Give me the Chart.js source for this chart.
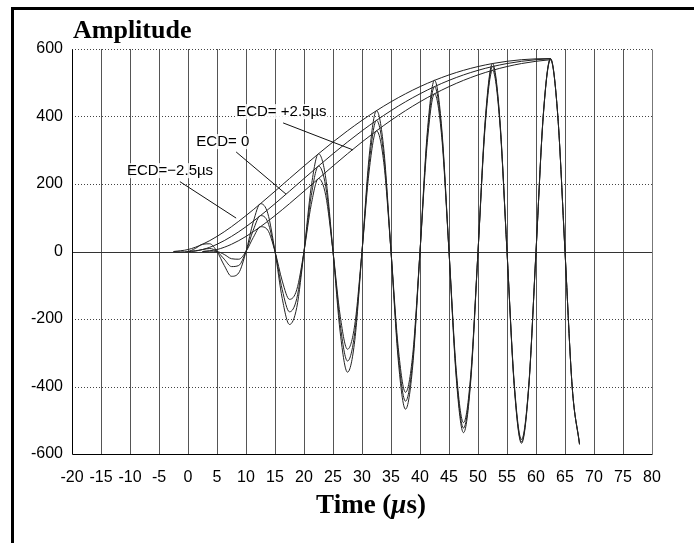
<!DOCTYPE html>
<html><head><meta charset="utf-8">
<script src="https://cdn.jsdelivr.net/npm/chart.js@4/dist/chart.umd.min.js"></script>
<style>html,body{margin:0;padding:0;background:#fff}#wrap{width:694px;height:543px;position:relative}</style>
</head><body><div id="wrap"><canvas id="c"></canvas></div>
<script>
// ---- data ----
const TIME_US = [-2.5,-1.25,0,1.25,2.5,3.75,5,6.25,7.5,8.75,10,11.25,12.5,13.75,15,16.25,17.5,18.75,20,21.25,22.5,23.75,25,26.25,27.5,28.75,30,31.25,32.5,33.75,35,36.25,37.5,38.75,40,41.25,42.5,43.75,45,46.25,47.5,48.75,50,51.25,52.5,53.75,55,56.25,57.5,58.75,60,61.25,62.5,63.75,65,66.25,67.5];
const PULSE_ECD_M25 = [0,-1.1,0,8.9,21.4,22.8,0,-41.4,-73.5,-63.3,0,87.5,141.8,113.3,0,-139.6,-216.2,-166.0,0,192.0,289.6,217.3,0,-241.3,-357.6,-264.0,0,285.1,417.3,304.5,0,-322.3,-467.3,-338.1,0,352.2,507.1,364.4,0,-374.9,-536.8,-383.7,0,390.8,556.9,396.3,0,-400.3,-568.3,-402.9,0,404.1,571.8,404.1,0,-403.0,-568.6];
const PULSE_ECD_0 = [null,null,0,1.1,5.8,8.8,0,-22.8,-44.7,-41.4,0,63.3,106.4,87.5,0,-113.3,-178.7,-139.6,0,166.0,253.3,192.0,0,-217.3,-324.5,-241.3,0,264.0,388.6,285.1,0,-304.5,-443.6,-322.3,0,338.1,488.5,352.2,0,-364.4,-523.2,-374.9,0,383.7,548.0,390.8,0,-396.3,-563.6,-400.3,0,402.9,570.9,404.1,0,-404.1,-571.0];
const PULSE_ECD_P25 = [null,null,null,null,0,1.1,0,-8.8,-21.4,-22.8,0,41.4,73.5,63.3,0,-87.5,-141.8,-113.3,0,139.6,216.2,166.0,0,-192.0,-289.6,-217.3,0,241.3,357.6,264.0,0,-285.1,-417.3,-304.5,0,322.3,467.3,338.1,0,-352.2,-507.1,-364.4,0,374.9,536.8,383.7,0,-390.8,-556.9,-396.3,0,400.3,568.3,402.9,0,-404.1,-571.8];
const ENV_TIME_US = [-2.5,0,2.5,5,7.5,10,12.5,15,17.5,20,22.5,25,27.5,30,32.5,35,37.5,40,42.5,45,47.5,50,52.5,55,57.5,60,62.5];
const ENV_ECD_M25 = [0,5.8,21.4,44.7,73.5,106.4,141.8,178.7,216.2,253.3,289.6,324.5,357.6,388.6,417.3,443.6,467.3,488.5,507.1,523.2,536.8,548.0,556.9,563.6,568.3,570.9,571.8];
const ENV_ECD_0 = [null,0,5.8,21.4,44.7,73.5,106.4,141.8,178.7,216.2,253.3,289.6,324.5,357.6,388.6,417.3,443.6,467.3,488.5,507.1,523.2,536.8,548.0,556.9,563.6,568.3,570.9];
const ENV_ECD_P25 = [null,null,0,5.8,21.4,44.7,73.5,106.4,141.8,178.7,216.2,253.3,289.6,324.5,357.6,388.6,417.3,443.6,467.3,488.5,507.1,523.2,536.8,548.0,556.9,563.6,568.3];
const X_TICKS = [-20,-15,-10,-5,0,5,10,15,20,25,30,35,40,45,50,55,60,65,70,75,80];
const Y_TICKS = [-600,-400,-200,0,200,400,600];
const ECD_LABELS = ['ECD= +2.5\u00b5s','ECD= 0','ECD=\u22122.5\u00b5s'];

// ---- annotation placement (data coordinates) ----
const ANNOT = [
  {at:[16.1,413], from:[16.4,381], to:[28.45,301]},
  {at:[6.0,324], from:[8.3,295], to:[16.9,170]},
  {at:[-3.1,238], from:[-1.4,207], to:[8.3,99]}
];

const pts = (xs, ys) => xs.map((x,i)=>({x:x, y:ys[i]}));
const lineDs = (xs, ys) => ({data: pts(xs, ys), borderColor:'#222', borderWidth:1, pointRadius:0, fill:false, cubicInterpolationMode:'monotone', spanGaps:false});

const decor = {
  id:'decor',
  beforeDatasetsDraw(chart){
    const {ctx, chartArea:a, scales:{x, y}} = chart;
    ctx.save();
    ctx.lineWidth = 1;
    X_TICKS.forEach(v=>{
      if (v === -20 || v === 80) return;
      const px = Math.round(x.getPixelForValue(v)) + 0.5;
      ctx.strokeStyle = '#555';
      ctx.beginPath(); ctx.moveTo(px, a.top); ctx.lineTo(px, a.bottom); ctx.stroke();
    });
    Y_TICKS.forEach(v=>{
      if (v === -600) return;
      const py = Math.round(y.getPixelForValue(v)) + 0.5;
      if (v === 0) { ctx.setLineDash([]); ctx.strokeStyle = '#333'; }
      else { ctx.setLineDash([1,2]); ctx.strokeStyle = '#444'; }
      ctx.beginPath(); ctx.moveTo(a.left, py); ctx.lineTo(a.right, py); ctx.stroke();
    });
    ctx.setLineDash([]);
    const L = Math.round(a.left)+0.5, R = Math.round(a.right)+0.5, B = Math.round(a.bottom)+0.5, T = Math.round(a.top)+0.5;
    ctx.strokeStyle = '#000';
    ctx.beginPath(); ctx.moveTo(L, T); ctx.lineTo(L, B); ctx.lineTo(R, B); ctx.stroke();
    ctx.strokeStyle = '#777';
    ctx.beginPath(); ctx.moveTo(R, T); ctx.lineTo(R, B); ctx.stroke();
    ctx.restore();
  },
  afterDatasetsDraw(chart){
    const {ctx, scales:{x, y}} = chart;
    ctx.save();
    ctx.strokeStyle = '#111'; ctx.lineWidth = 1;
    ctx.font = '15px "Liberation Sans", Arial, sans-serif';
    ctx.textAlign = 'center'; ctx.textBaseline = 'middle';
    ANNOT.forEach((an, i)=>{
      const tx = x.getPixelForValue(an.at[0]), ty = y.getPixelForValue(an.at[1]);
      const w = ctx.measureText(ECD_LABELS[i]).width;
      ctx.fillStyle = 'rgba(255,255,255,0.85)';
      ctx.fillRect(tx - w/2 - 1, ty - 8, w + 2, 15);
      ctx.fillStyle = '#000';
      ctx.fillText(ECD_LABELS[i], tx, ty);
      ctx.beginPath();
      ctx.moveTo(x.getPixelForValue(an.from[0]), y.getPixelForValue(an.from[1]));
      ctx.lineTo(x.getPixelForValue(an.to[0]), y.getPixelForValue(an.to[1]));
      ctx.stroke();
    });
    ctx.restore();
  },
  afterDraw(chart){
    const {ctx, chartArea:a} = chart;
    ctx.save();
    ctx.fillStyle = '#000';
    ctx.fillRect(11, 7, 683, 3);
    ctx.fillRect(11, 7, 3, 536);
    ctx.textBaseline = 'alphabetic'; ctx.textAlign = 'left';
    ctx.font = 'bold 26px "Liberation Serif", "Times New Roman", serif';
    ctx.fillText('Amplitude', a.left + 1, 38);
    const f1 = 'bold 27px "Liberation Serif", "Times New Roman", serif';
    const f2 = 'italic bold 27px "Liberation Serif", "Times New Roman", serif';
    const parts = [['Time (', f1], ['\u03bc', f2], ['s)', f1]];
    let total = 0;
    parts.forEach(p=>{ ctx.font = p[1]; total += ctx.measureText(p[0]).width; });
    let cx = 371 - total/2;
    parts.forEach(p=>{ ctx.font = p[1]; ctx.fillText(p[0], cx, 513); cx += ctx.measureText(p[0]).width; });
    ctx.restore();
  }
};

new Chart(document.getElementById('c'), {
  type:'line',
  data:{ datasets:[
    lineDs(TIME_US, PULSE_ECD_M25),
    lineDs(TIME_US, PULSE_ECD_0),
    lineDs(TIME_US, PULSE_ECD_P25),
    lineDs(ENV_TIME_US, ENV_ECD_M25),
    lineDs(ENV_TIME_US, ENV_ECD_0),
    lineDs(ENV_TIME_US, ENV_ECD_P25)
  ]},
  options:{
    responsive:true, maintainAspectRatio:false, animation:false,
    layout:{padding:{top:49, right:42, left:0, bottom:0}},
    plugins:{legend:{display:false}, tooltip:{enabled:false}, title:{display:false}},
    scales:{
      x:{type:'linear', min:-20, max:80,
        afterFit(s){ s.height = 89; },
        afterBuildTicks(s){ s.ticks = X_TICKS.map(v=>({value:v})); },
        grid:{display:false, drawTicks:false}, border:{display:false},
        ticks:{color:'#000', padding:14, maxRotation:0, autoSkip:false, font:{family:'"Liberation Sans", Arial, sans-serif', size:16}}
      },
      y:{type:'linear', min:-600, max:600,
        afterFit(s){ s.width = 72; },
        afterBuildTicks(s){ s.ticks = Y_TICKS.map(v=>({value:v})); },
        grid:{display:false, drawTicks:false}, border:{display:false},
        ticks:{color:'#000', padding:9, font:{family:'"Liberation Sans", Arial, sans-serif', size:16}}
      }
    }
  },
  plugins:[decor]
});
</script></body></html>
